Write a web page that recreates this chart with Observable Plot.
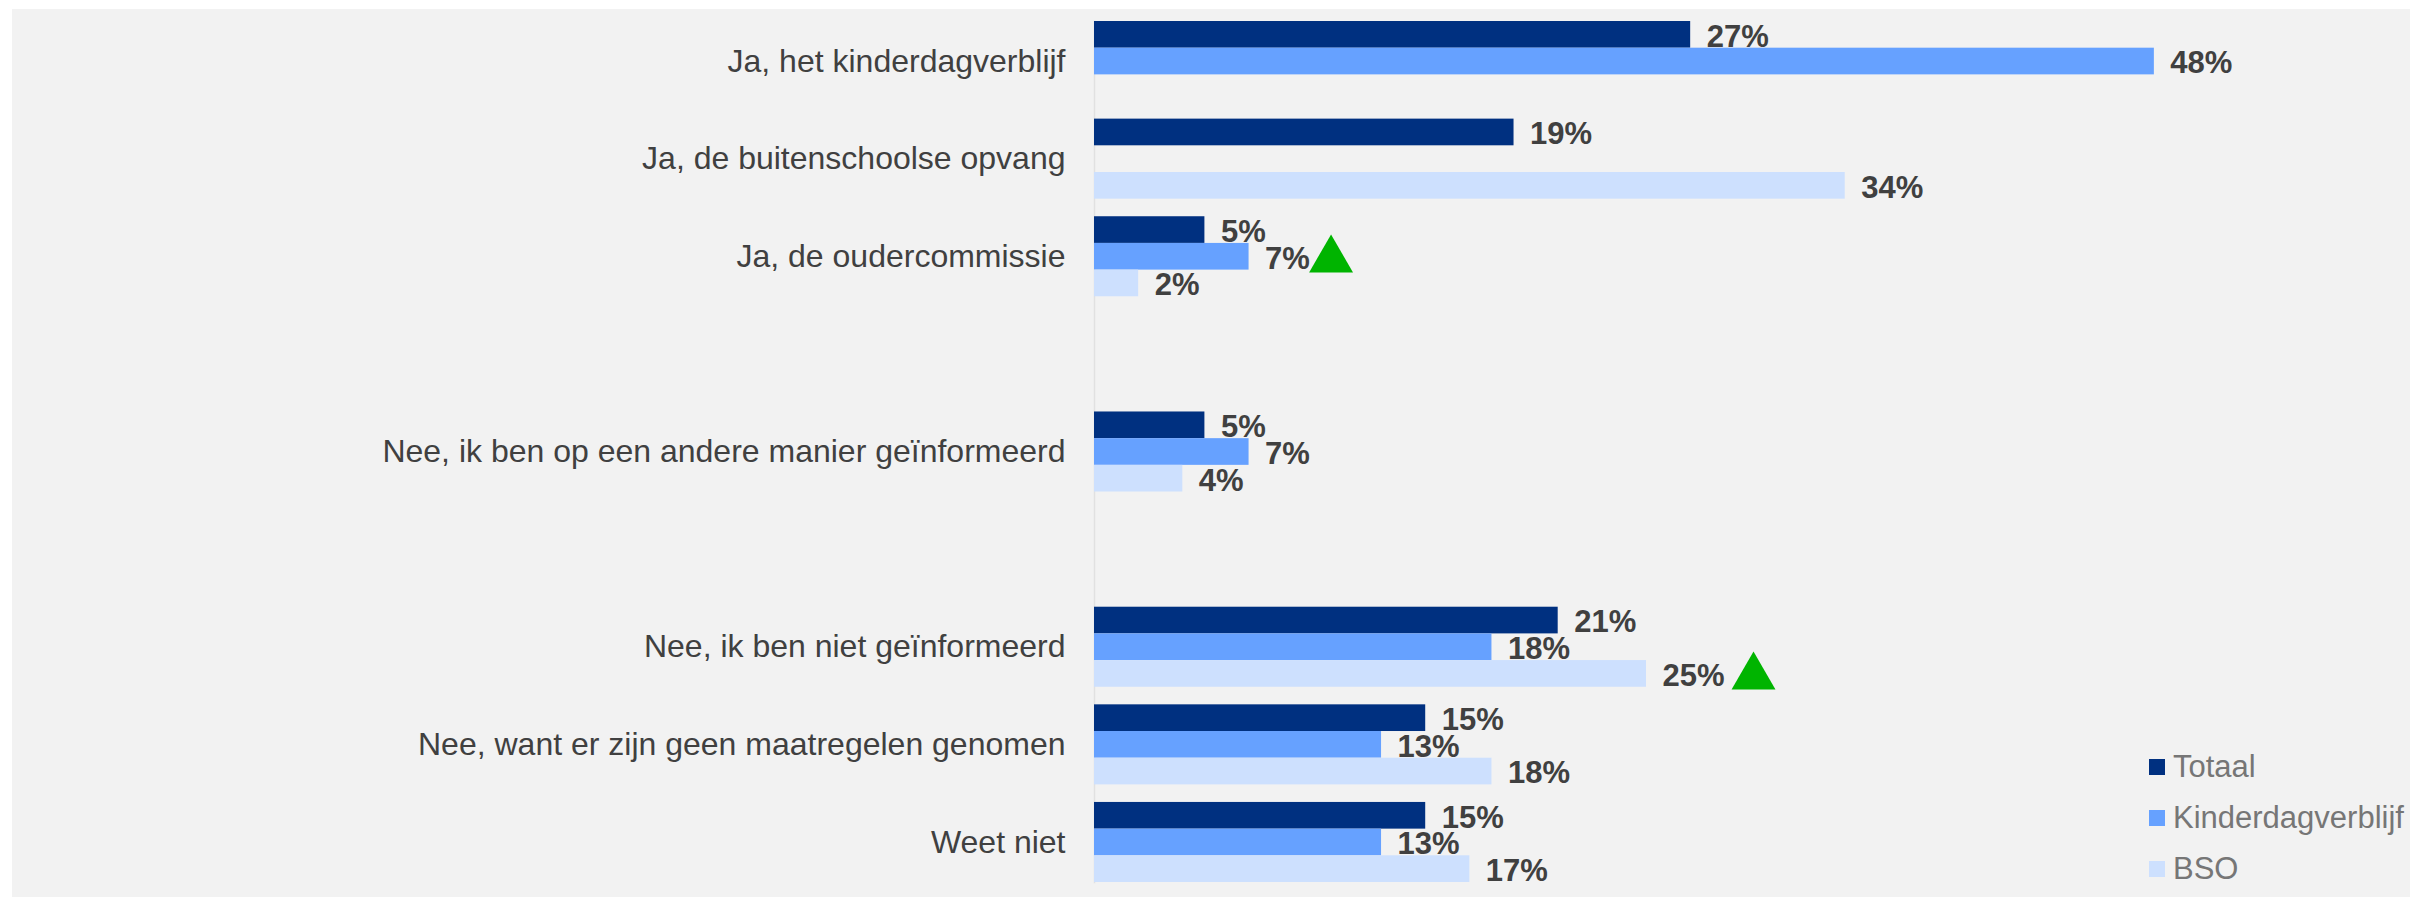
<!DOCTYPE html>
<html>
<head>
<meta charset="utf-8">
<script src="https://cdn.jsdelivr.net/npm/d3@7"></script>
<script src="https://cdn.jsdelivr.net/npm/@observablehq/plot@0.6"></script>
<style>
html, body { margin: 0; padding: 0; background: #ffffff; overflow: hidden; width: 2410px; height: 897px; }
#wrap { position: relative; width: 2410px; height: 897px; }
#chart { position: absolute; left: 12px; top: 9px; }
#legend { position: absolute; left: 2149px; top: 741px; font-family: 'Liberation Sans', Arial, sans-serif; font-size: 31px; color: #767676; white-space: nowrap; }
#legend .row { display: flex; align-items: center; height: 51px; }
#legend .sw { width: 16px; height: 16px; margin-right: 8px; flex: none; }
</style>
</head>
<body>
<div id="wrap"><div id="chart"></div><div id="legend"></div></div>
<script>
// ---- data ----
const categories = [
  "Ja, het kinderdagverblijf",
  "Ja, de buitenschoolse opvang",
  "Ja, de oudercommissie",
  "Nee, ik ben op een andere manier geïnformeerd",
  "Nee, ik ben niet geïnformeerd",
  "Nee, want er zijn geen maatregelen genomen",
  "Weet niet"
];
const series = ["Totaal", "Kinderdagverblijf", "BSO"];
const totaal = [27, 19, 5, 5, 21, 15, 15];
const kinderdagverblijf = [48, null, 7, 7, 18, 13, 13];
const bso = [null, 34, 2, 4, 25, 18, 17];
const colors = ["#003080", "#66a1ff", "#cde0fe"];
// significant-increase markers
const flagCategories = ["Ja, de oudercommissie", "Nee, ik ben niet geïnformeerd"];
const flagSeries = ["Kinderdagverblijf", "BSO"];
// category slots on the vertical axis ("" / " " are empty spacer slots)
const slots = [categories[0], categories[1], categories[2], "", categories[3], " ", categories[4], categories[5], categories[6]];

// ---- table ----
const valuesBySeries = [totaal, kinderdagverblijf, bso];
const rows = [];
categories.forEach((c, i) => {
  series.forEach((s, j) => {
    const v = valuesBySeries[j][i];
    if (v != null) rows.push({category: c, series: s, value: v, label: v + "%"});
  });
});
const flagged = rows.filter(r => flagCategories.some((c, k) => c === r.category && flagSeries[k] === r.series));
const byLen = d3.group(flagged, d => d.label.length);
const triangleMarks = Array.from(byLen, ([len, data]) =>
  Plot.dot(data, {x: "value", y: "series", fy: "category", symbol: "triangle", r: 16.3,
    fill: "#00b400", stroke: "none", dx: 32 + 25 * len, dy: 3})
);

const plot = Plot.plot({
  width: 2398,
  height: 888,
  marginLeft: 1082,
  marginRight: 0,
  marginTop: 4,
  marginBottom: 7,
  style: {background: "#f2f2f2", fontFamily: "'Liberation Sans', Arial, sans-serif", color: "#404040", overflow: "visible"},
  x: {domain: [0, 59.6], axis: null},
  y: {domain: series, padding: 0, round: false, axis: null},
  fy: {domain: slots, paddingInner: 0.18, paddingOuter: 0.082, round: false},
  color: {domain: series, range: colors},
  marks: [
    Plot.frame({anchor: "left", facet: "super", stroke: "#e1e1e1", strokeWidth: 1.5}),
    Plot.axisFy({anchor: "left", tickSize: 0, tickPadding: 29, fontSize: 32, label: null,
      tickFormat: d => d.trim() === "" ? "" : d}),
    Plot.barX(rows, {x1: 0, x2: "value", y: "series", fy: "category", fill: "series"}),
    Plot.text(rows, {x: "value", y: "series", fy: "category", text: "label", textAnchor: "start",
      dx: 16, dy: 2, fontSize: 31, fontWeight: "bold", fill: "#404040"}),
    ...triangleMarks
  ]
});
document.getElementById("chart").appendChild(plot);

// ---- legend ----
const legend = d3.select("#legend");
series.forEach((s, i) => {
  const row = legend.append("div").attr("class", "row");
  row.append("div").attr("class", "sw").style("background", colors[i]);
  row.append("span").text(s);
});
</script>
</body>
</html>
